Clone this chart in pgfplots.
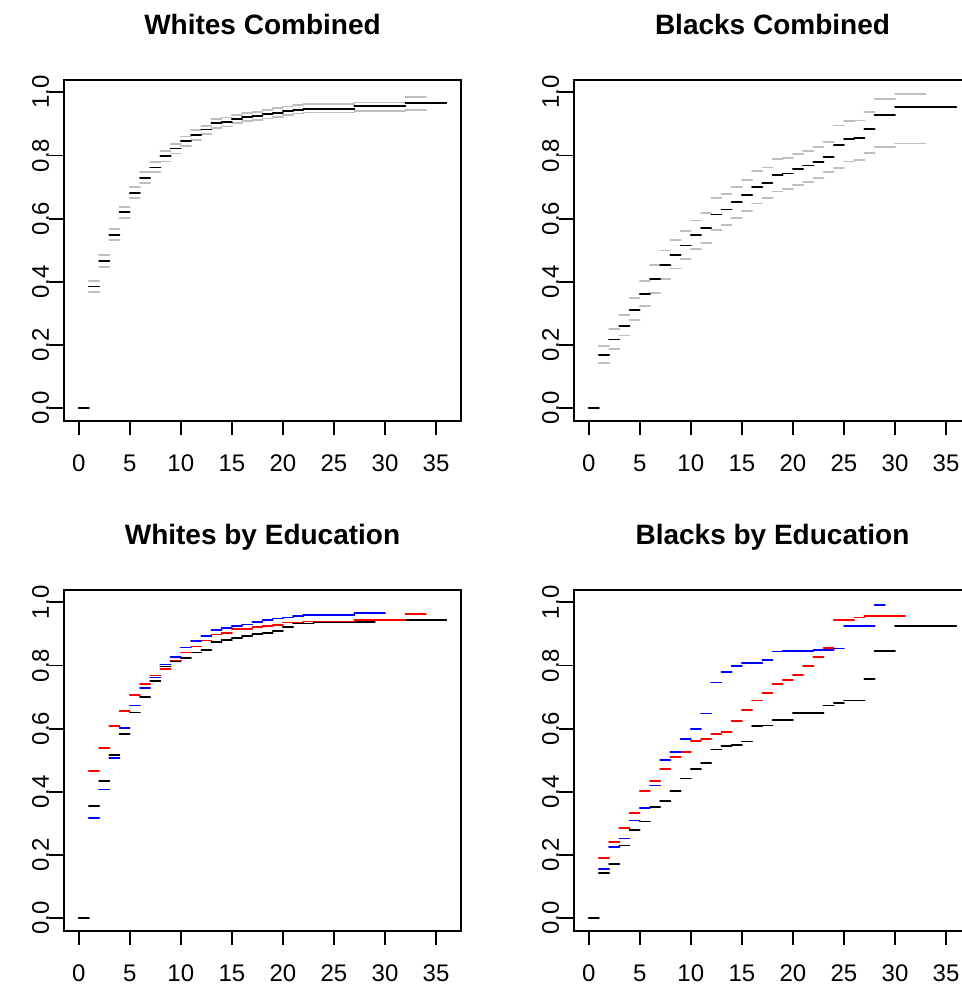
\documentclass[border=0pt]{standalone}
\usepackage{pgfplots}
\pgfplotsset{compat=1.18}
\usepackage{fontspec}
\setmainfont{Liberation Sans}
\definecolor{rgrey}{HTML}{BEBEBE}
\definecolor{rred}{HTML}{FF0000}
\definecolor{rblue}{HTML}{0000FF}
\pgfplotsset{
  rpanel/.style={
    scale only axis, width=297.75pt, height=255.75pt,
    xmin=-1.44, xmax=37.44, ymin=-0.04, ymax=1.04,
    axis line style={line width=1.37pt},
    tick align=outside, tick pos=left,
    major tick length=10.9pt,
    tick style={line width=1.37pt, black},
    xtick={0,5,...,35}, xticklabels={0,5,10,15,20,25,30,35},
    ytick={0,0.2,0.4,0.6,0.8,1.0}, yticklabels={0.0,0.2,0.4,0.6,0.8,1.0},
    ticklabel style={font=\fontsize{18}{20}\selectfont},
    xticklabel style={anchor=north, inner sep=0pt, yshift=-14.8pt},
    yticklabel style={rotate=90, anchor=south, inner sep=0pt},
    title style={font=\bfseries\fontsize{21}{24}\selectfont, anchor=base, at={(0.5,1)}, yshift=27.6pt},
    every axis plot/.append style={jump mark left, line width=1.37pt, line cap=round},
  }
}
\begin{document}
\begin{tikzpicture}
\useasboundingbox (0,0) rectangle (720.75pt,739.5pt);
% Panel 1
\begin{axis}[rpanel, at={(48pt,423.98pt)}, anchor=south west, title={Whites Combined}]
\addplot[rgrey] table[row sep=\\]{x y\\ 1 0.403\\ 2 0.485\\ 3 0.568\\ 4 0.638\\ 5 0.700\\ 6 0.747\\ 7 0.779\\ 8 0.814\\ 9 0.837\\ 10 0.860\\ 11 0.880\\ 12 0.894\\ 13 0.915\\ 14 0.920\\ 15 0.928\\ 16 0.934\\ 17 0.938\\ 18 0.943\\ 19 0.950\\ 20 0.955\\ 21 0.960\\ 22 0.962\\ 27 0.968\\ 32 0.984\\ 34 0.984\\};
\addplot[rgrey] table[row sep=\\]{x y\\ 1 0.368\\ 2 0.448\\ 3 0.531\\ 4 0.603\\ 5 0.665\\ 6 0.712\\ 7 0.747\\ 8 0.781\\ 9 0.806\\ 10 0.830\\ 11 0.850\\ 12 0.867\\ 13 0.887\\ 14 0.892\\ 15 0.903\\ 16 0.908\\ 17 0.913\\ 18 0.917\\ 19 0.922\\ 20 0.927\\ 21 0.933\\ 22 0.936\\ 27 0.940\\ 32 0.943\\ 34 0.943\\};
\addplot[black] table[row sep=\\]{x y\\ 0 0\\ 1 0.385\\ 2 0.466\\ 3 0.549\\ 4 0.620\\ 5 0.682\\ 6 0.729\\ 7 0.762\\ 8 0.797\\ 9 0.822\\ 10 0.845\\ 11 0.866\\ 12 0.882\\ 13 0.902\\ 14 0.907\\ 15 0.916\\ 16 0.921\\ 17 0.926\\ 18 0.931\\ 19 0.935\\ 20 0.940\\ 21 0.945\\ 22 0.948\\ 27 0.956\\ 32 0.966\\ 36 0.966\\};
\end{axis}
% Panel 2
\begin{axis}[rpanel, at={(430.5pt,423.98pt)}, anchor=south west, title={Blacks Combined}]
\addplot[rgrey] table[row sep=\\]{x y\\ 1 .197\\ 2 .250\\ 3 .295\\ 4 .349\\ 5 .403\\ 6 .452\\ 7 .499\\ 8 .532\\ 9 .562\\ 10 .594\\ 11 .618\\ 12 .664\\ 13 .679\\ 14 .701\\ 15 .723\\ 16 .750\\ 17 .762\\ 18 .788\\ 19 .793\\ 20 .805\\ 21 .815\\ 22 .826\\ 23 .843\\ 24 .895\\ 25 .909\\ 26 .911\\ 27 .938\\ 28 .979\\ 30 .994\\ 33 .994\\};
\addplot[rgrey] table[row sep=\\]{x y\\ 1 .143\\ 2 .188\\ 3 .230\\ 4 .278\\ 5 .323\\ 6 .365\\ 7 .410\\ 8 .442\\ 9 .471\\ 10 .503\\ 11 .522\\ 12 .564\\ 13 .580\\ 14 .602\\ 15 .623\\ 16 .648\\ 17 .664\\ 18 .686\\ 19 .694\\ 20 .706\\ 21 .717\\ 22 .729\\ 23 .747\\ 24 .761\\ 25 .781\\ 26 .786\\ 27 .809\\ 28 .826\\ 30 .838\\ 33 .838\\};
\addplot[black] table[row sep=\\]{x y\\ 0 0\\ 1 .168\\ 2 .217\\ 3 .261\\ 4 .311\\ 5 .361\\ 6 .408\\ 7 .453\\ 8 .486\\ 9 .515\\ 10 .548\\ 11 .569\\ 12 .613\\ 13 .629\\ 14 .652\\ 15 .674\\ 16 .699\\ 17 .714\\ 18 .738\\ 19 .743\\ 20 .757\\ 21 .768\\ 22 .779\\ 23 .796\\ 24 .834\\ 25 .852\\ 26 .855\\ 27 .883\\ 28 .927\\ 30 .954\\ 36 .954\\};
\end{axis}
% Panel 3
\begin{axis}[rpanel, at={(48pt,41.48pt)}, anchor=south west, title={Whites by Education}]
\addplot[black] table[row sep=\\]{x y\\ 0 0\\ 1 .354\\ 2 .435\\ 3 .517\\ 4 .582\\ 5 .651\\ 6 .699\\ 7 .750\\ 8 .797\\ 9 .815\\ 10 .823\\ 11 .841\\ 12 .848\\ 13 .874\\ 14 .880\\ 15 .886\\ 16 .894\\ 17 .899\\ 18 .904\\ 19 .909\\ 20 .923\\ 21 .933\\ 23 .936\\ 27 .938\\ 29 .944\\ 36 .944\\};
\addplot[rred] table[row sep=\\]{x y\\ 1 .467\\ 2 .539\\ 3 .607\\ 4 .655\\ 5 .707\\ 6 .742\\ 7 .768\\ 8 .788\\ 9 .816\\ 10 .841\\ 11 .860\\ 12 .879\\ 13 .898\\ 14 .904\\ 15 .915\\ 17 .921\\ 18 .925\\ 19 .927\\ 20 .936\\ 22 .939\\ 27 .945\\ 32 .964\\ 34 .964\\};
\addplot[rblue] table[row sep=\\]{x y\\ 1 .317\\ 2 .407\\ 3 .506\\ 4 .603\\ 5 .673\\ 6 .728\\ 7 .762\\ 8 .803\\ 9 .826\\ 10 .857\\ 11 .877\\ 12 .893\\ 13 .912\\ 14 .918\\ 15 .924\\ 16 .930\\ 17 .938\\ 18 .944\\ 19 .949\\ 20 .952\\ 21 .957\\ 22 .961\\ 27 .966\\ 30 .966\\};
\end{axis}
% Panel 4
\begin{axis}[rpanel, at={(430.5pt,41.48pt)}, anchor=south west, title={Blacks by Education}]
\addplot[black] table[row sep=\\]{x y\\ 0 0\\ 1 .144\\ 2 .171\\ 3 .230\\ 4 .280\\ 5 .306\\ 6 .352\\ 7 .372\\ 8 .403\\ 9 .442\\ 10 .473\\ 11 .491\\ 12 .534\\ 13 .545\\ 14 .549\\ 15 .559\\ 16 .607\\ 17 .610\\ 18 .628\\ 20 .650\\ 23 .673\\ 24 .682\\ 25 .689\\ 27 .757\\ 28 .845\\ 30 .926\\ 36 .926\\};
\addplot[rred] table[row sep=\\]{x y\\ 1 .190\\ 2 .242\\ 3 .284\\ 4 .334\\ 5 .403\\ 6 .433\\ 7 .472\\ 8 .510\\ 9 .527\\ 10 .562\\ 11 .567\\ 12 .582\\ 13 .588\\ 14 .624\\ 15 .660\\ 16 .689\\ 17 .712\\ 18 .741\\ 19 .755\\ 20 .771\\ 21 .798\\ 22 .828\\ 23 .856\\ 24 .944\\ 26 .952\\ 27 .956\\ 31 .956\\};
\addplot[rblue] table[row sep=\\]{x y\\ 1 .156\\ 2 .224\\ 3 .252\\ 4 .309\\ 5 .349\\ 6 .420\\ 7 .501\\ 8 .527\\ 9 .567\\ 10 .599\\ 11 .648\\ 12 .746\\ 13 .780\\ 14 .798\\ 15 .808\\ 17 .818\\ 18 .844\\ 19 .847\\ 22 .849\\ 24 .854\\ 25 .925\\ 28 .991\\ 29 .991\\};
\end{axis}
\end{tikzpicture}
\end{document}
